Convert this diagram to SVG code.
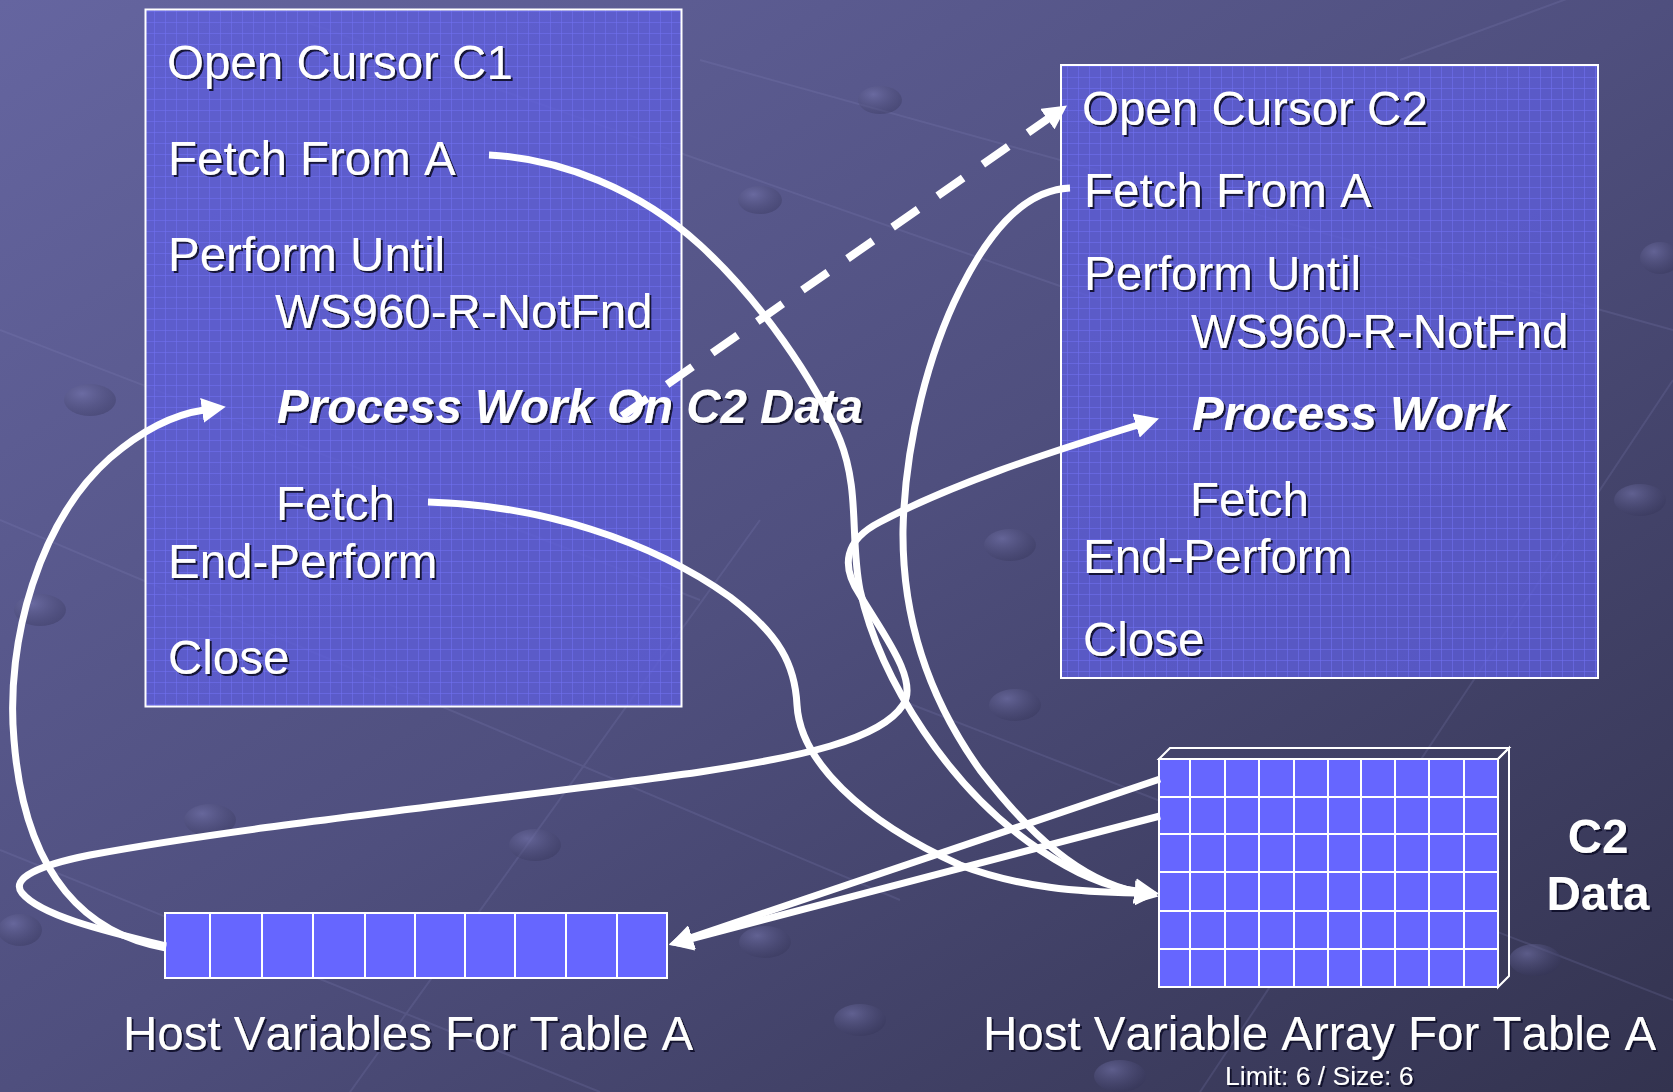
<svg xmlns="http://www.w3.org/2000/svg" width="1673" height="1092" viewBox="0 0 1673 1092">
  <defs>
    <linearGradient id="bg" x1="0" y1="0" x2="1" y2="1">
      <stop offset="0" stop-color="#6565A0"/>
      <stop offset="0.5" stop-color="#4F4F7E"/>
      <stop offset="1" stop-color="#33334F"/>
    </linearGradient>
    <radialGradient id="ball" cx="0.35" cy="0.3" r="0.8">
      <stop offset="0" stop-color="#7878B0" stop-opacity="0.55"/>
      <stop offset="1" stop-color="#2E2E50" stop-opacity="0.35"/>
    </radialGradient>
    <pattern id="boxgrid" width="11" height="11" patternUnits="userSpaceOnUse">
      <rect width="11" height="11" fill="#5E5EDC" fill-opacity="0.78"/>
      <path d="M0,0.5H11M0.5,0V11" stroke="#7070F0" stroke-width="1" stroke-opacity="0.55"/>
    </pattern>
    <filter id="shadow" x="-5%" y="-20%" width="110%" height="140%">
      <feDropShadow dx="2" dy="2" stdDeviation="0.4" flood-color="#101028" flood-opacity="0.9"/>
    </filter>
    <marker id="ah" markerUnits="userSpaceOnUse" markerWidth="24" markerHeight="25" viewBox="0 0 24 25" refX="2" refY="12.5" orient="auto">
      <path d="M0,0 L24,12.5 L0,25 Z" fill="#FFFFFF"/>
    </marker>
  </defs>
  <style>
    .t { font-family: "Liberation Sans", Arial, sans-serif; font-size: 47.5px; font-kerning: none; fill: #FFFFFF; filter: url(#shadow); }
    .bi { font-weight: bold; font-style: italic; }
    .b { font-weight: bold; }
    .small { font-size: 26.5px; }
    .box { fill: url(#boxgrid); stroke: #FFFFFF; stroke-width: 2; }
    .cell { fill: #6666FF; stroke: #FFFFFF; stroke-width: 2; }
    .gl { stroke: #FFFFFF; stroke-width: 2; fill: none; }
    .edge { fill: none; stroke: #FFFFFF; stroke-width: 7; }
    .dash { fill: none; stroke: #FFFFFF; stroke-width: 8; stroke-dasharray: 31 24; }
    .lat { stroke: #8A8AC0; stroke-opacity: 0.18; stroke-width: 2; fill: none; }
  </style>

  <!-- backdrop -->
  <rect width="1673" height="1092" fill="url(#bg)"/>
  <g id="backdrop-lattice">
    <path class="lat" d="M0,330 L700,600 M0,520 L900,900 M300,20 L1100,300 M700,60 L1673,330 M900,700 L1673,1000 M0,850 L600,1092 M1200,1092 L1673,380 M350,1092 L760,520 M1400,60 L1673,-40"/>
    <ellipse cx="90" cy="400" rx="26" ry="16" fill="url(#ball)"/>
    <ellipse cx="40" cy="610" rx="26" ry="16" fill="url(#ball)"/>
    <ellipse cx="535" cy="845" rx="26" ry="16" fill="url(#ball)"/>
    <ellipse cx="210" cy="820" rx="26" ry="16" fill="url(#ball)"/>
    <ellipse cx="530" cy="930" rx="26" ry="16" fill="url(#ball)"/>
    <ellipse cx="765" cy="942" rx="26" ry="16" fill="url(#ball)"/>
    <ellipse cx="1010" cy="545" rx="26" ry="16" fill="url(#ball)"/>
    <ellipse cx="1015" cy="705" rx="26" ry="16" fill="url(#ball)"/>
    <ellipse cx="1535" cy="960" rx="26" ry="16" fill="url(#ball)"/>
    <ellipse cx="1640" cy="500" rx="26" ry="16" fill="url(#ball)"/>
    <ellipse cx="1660" cy="258" rx="20" ry="16" fill="url(#ball)"/>
    <ellipse cx="1120" cy="1076" rx="26" ry="16" fill="url(#ball)"/>
    <ellipse cx="860" cy="1020" rx="26" ry="16" fill="url(#ball)"/>
    <ellipse cx="20" cy="930" rx="22" ry="16" fill="url(#ball)"/>
    <ellipse cx="880" cy="100" rx="22" ry="14" fill="url(#ball)"/>
    <ellipse cx="760" cy="200" rx="22" ry="14" fill="url(#ball)"/>
  </g>

  <!-- cursor C1 program block -->
  <g id="cursor-c1">
    <rect class="box" x="145.5" y="9.5" width="536" height="697"/>
    <text class="t" x="167" y="79">Open Cursor C1</text>
    <text class="t" x="168" y="175">Fetch From A</text>
    <text class="t" x="168" y="271">Perform Until</text>
    <text class="t" x="275" y="328">WS960-R-NotFnd</text>
    <text class="t bi" x="277" y="423">Process Work On C2 Data</text>
    <text class="t" x="276" y="520">Fetch</text>
    <text class="t" x="168" y="578">End-Perform</text>
    <text class="t" x="168" y="674">Close</text>
  </g>

  <!-- cursor C2 program block -->
  <g id="cursor-c2">
    <rect class="box" x="1061" y="65" width="537" height="613"/>
    <text class="t" x="1082" y="125">Open Cursor C2</text>
    <text class="t" x="1084" y="207">Fetch From A</text>
    <text class="t" x="1084" y="290">Perform Until</text>
    <text class="t" x="1191" y="348">WS960-R-NotFnd</text>
    <text class="t bi" x="1192" y="430">Process Work</text>
    <text class="t" x="1190" y="516">Fetch</text>
    <text class="t" x="1083" y="573">End-Perform</text>
    <text class="t" x="1083" y="656">Close</text>
  </g>

  <!-- single-row host variables -->
  <g id="host-vars">
    <rect class="cell" x="165" y="913" width="502" height="65"/>
    <path class="gl" d="M210,913V978M262,913V978M313,913V978M365,913V978M415,913V978M465,913V978M515,913V978M566,913V978M617,913V978"/>
    <text class="t" x="123" y="1050">Host Variables For Table A</text>
  </g>

  <!-- host variable array (rowset) -->
  <g id="host-array">
    <path class="gl" d="M1159,759 L1170,748 L1509,748 L1498,759 Z"/>
    <path class="gl" d="M1498,759 L1509,748 L1509,976 L1498,987 Z"/>
    <rect class="cell" x="1159" y="759" width="339" height="228"/>
    <path class="gl" d="M1190,759V987M1225,759V987M1259,759V987M1294,759V987M1328,759V987M1361,759V987M1395,759V987M1429,759V987M1464,759V987"/>
    <path class="gl" d="M1159,797H1498M1159,834H1498M1159,872H1498M1159,911H1498M1159,949H1498"/>
    <text class="t b" x="1598" y="853" text-anchor="middle">C2</text>
    <text class="t b" x="1598" y="910" text-anchor="middle">Data</text>
    <text class="t" x="983" y="1050">Host Variable Array For Table A</text>
    <text class="t small" x="1225" y="1085">Limit: 6 / Size: 6</text>
  </g>

  <!-- data flow -->
  <g id="connectors">
    <!-- C1 Fetch From A fills the array -->
    <path class="edge" marker-end="url(#ah)" d="M489,155 C560,158 640,190 700,245 C760,300 815,380 840,440 C860,490 850,540 860,590 C880,680 950,790 1040,850 C1075,873 1105,887 1137,891"/>
    <!-- C2 Fetch From A fills the array -->
    <path class="edge" marker-end="url(#ah)" d="M1070,188 C1020,190 985,240 960,290 C930,350 905,440 903,530 C902,620 930,700 980,770 C1030,835 1080,880 1137,892"/>
    <!-- C1 Fetch fills the array -->
    <path class="edge" marker-end="url(#ah)" d="M428,502 C540,505 650,540 730,597 C780,635 795,665 797,705 C800,760 860,820 960,865 C1020,888 1080,892 1137,893"/>
    <!-- array rows copied into host variables -->
    <path class="edge" marker-end="url(#ah)" d="M1160,779 L690,938"/>
    <path class="edge" marker-end="url(#ah)" d="M1160,816 L690,939"/>
    <!-- host variables feed C1 processing -->
    <path class="edge" marker-end="url(#ah)" d="M166,948 C90,935 25,880 14,740 C5,640 40,520 110,458 C140,432 170,415 204,410"/>
    <!-- host variables feed C2 processing -->
    <path class="edge" marker-end="url(#ah)" d="M166,946 C100,930 40,915 22,893 C10,878 40,865 90,855 C250,825 500,800 700,772 C800,757 880,740 903,705 C920,680 880,630 860,595 C840,565 845,540 880,522 C950,485 1040,455 1138,425"/>
    <!-- C1 processing opens cursor C2 -->
    <path class="dash" marker-end="url(#ah)" d="M622,416 L1049,118"/>
  </g>
</svg>
